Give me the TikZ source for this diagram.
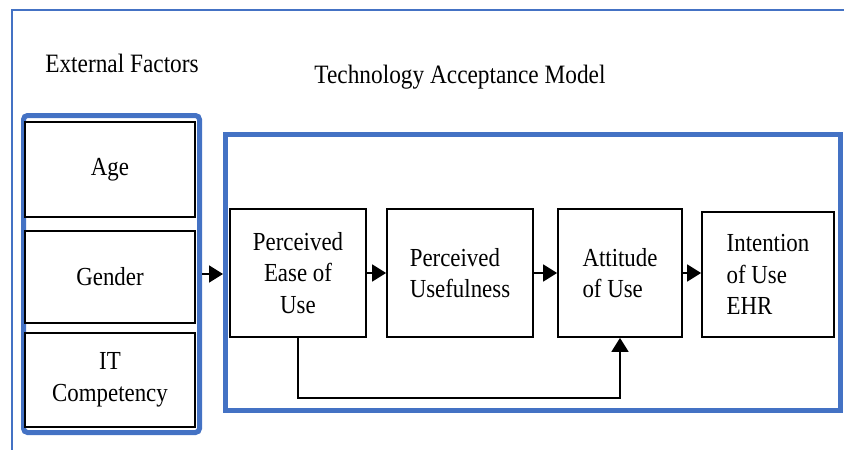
\documentclass[tikz,border=0pt]{standalone}
\usepackage{fontspec}
\setmainfont{Liberation Serif}[FakeStretch=0.88]
\usetikzlibrary{arrows.meta}
\definecolor{frameblue}{HTML}{4472C4}
\begin{document}
\begin{tikzpicture}[x=1pt,y=-1pt,
  box/.style={draw=black,line width=1.8pt,fill=white,inner sep=0pt,font=\fontsize{26}{31.5}\selectfont},
  lbl/.style={inner sep=0pt,font=\fontsize{26.5}{30}\selectfont},
  conn/.style={draw=black,line width=1.8pt,-{Triangle[length=14pt,width=17pt]}},
  bluebox/.style={draw=frameblue,line width=5pt,inner sep=0pt}]
\useasboundingbox (0,0) rectangle (844,450);
% outer frame (open to the right and bottom)
\draw[frameblue,line width=2.2pt] (12,452) -- (12,10) -- (846,10);
% titles
\node[lbl] (tef) at (122,63) {External Factors};
\node[lbl] (ttam) at (460,77) {Technology Acceptance Model};
% external factors group
\node[bluebox,rounded corners=4pt,minimum width=176pt,minimum height=317pt] (ext) at (111.5,274) {};
\node[box,align=center,minimum width=170pt,minimum height=95pt] (age) at (110,169.5) {Age};
\node[box,align=center,minimum width=170pt,minimum height=92pt] (gen) at (110,277) {Gender};
\node[box,align=center,minimum width=170pt,minimum height=94pt] (itc) at (110,380) {IT\\Competency};
% TAM group
\node[bluebox,minimum width=615pt,minimum height=276pt] (tam) at (533,272.5) {};
\node[box,align=center,minimum width=136pt,minimum height=128pt] (peou) at (298,273) {Perceived\\Ease of\\Use};
\node[box,align=left,minimum width=146pt,minimum height=128pt] (pu) at (460,273) {Perceived\\Usefulness};
\node[box,align=left,minimum width=124pt,minimum height=128pt] (att) at (620,273) {Attitude\\of Use};
\node[box,align=left,minimum width=132pt,minimum height=125pt] (int) at (768,274.5) {Intention\\of Use\\EHR};
% connectors
\draw[conn] (ext.east) -- (ext.east -| tam.west);
\draw[conn] (peou.east) -- (peou.east -| pu.west);
\draw[conn] (pu.east) -- (pu.east -| att.west);
\draw[conn] (att.east) -- (att.east -| int.west);
\coordinate (fb) at (0,398);
\draw[conn] (peou.south) -- (peou.south |- fb) -| (att.south);
\end{tikzpicture}
\end{document}
